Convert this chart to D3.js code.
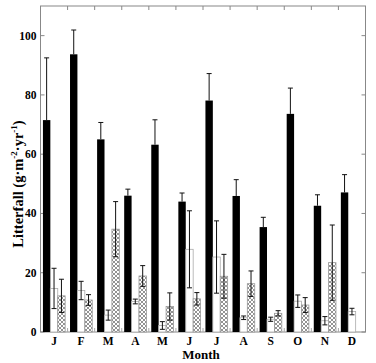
<!DOCTYPE html>
<html><head><meta charset="utf-8">
<script src="https://cdn.jsdelivr.net/npm/d3@7"></script>
<style>body{margin:0;background:#fff}svg{display:block}</style>
</head><body>
<script>
const months = ["J","F","M","A","M","J","J","A","S","O","N","D"];
const seriesNames = ["total","open","hatched"];
const totalVals = [71.5, 93.7, 65, 46, 63.2, 44, 78.1, 45.9, 35.4, 73.6, 42.6, 47.1];
const totalErr  = [21, 8.2, 5.7, 2.2, 8.4, 2.9, 9.1, 5.5, 3.3, 8.7, 3.7, 6];
const openVals  = [14.7, 14, 5.7, 10.3, 2.2, 27.9, 25.3, 4.8, 4.3, 10.4, 3.8, 6.9];
const openErr   = [6.8, 3.1, 1.7, 0.8, 1.3, 13, 12.2, 0.6, 0.7, 2.1, 1.4, 1.1];
const hatchVals = [12.2, 10.8, 34.7, 18.9, 8.6, 11.2, 18.8, 16.3, 6.3, 9.1, 23.4, null];
const hatchErr  = [5.6, 1.8, 9.3, 3.5, 4.6, 2.1, 7.4, 4.3, 0.9, 2.5, 12.7, null];
const yTicks = [0, 20, 40, 60, 80, 100];

const W = 376, H = 363;
const L = 40.5, R = 365.5, T = 6, B = 332;
const svg = d3.select("body").append("svg").attr("width", W).attr("height", H);

const defs = svg.append("defs");
const pat = defs.append("pattern").attr("id","xh").attr("patternUnits","userSpaceOnUse")
  .attr("width",4).attr("height",4);
pat.append("rect").attr("width",4).attr("height",4).attr("fill","#fff");
pat.append("path").attr("d","M0,0L4,4M4,0L0,4").attr("stroke","#777").attr("stroke-width",0.8);

const idx = d3.range(months.length);
const x = d3.scaleBand().domain(idx).range([L, R]).paddingInner(0.18).paddingOuter(0.09);
const xs = d3.scaleBand().domain(seriesNames).range([0, x.bandwidth()]);
const y = d3.scaleLinear().domain([0, 110]).range([B, T]);

// frame
svg.append("rect").attr("x", L).attr("y", T).attr("width", R - L).attr("height", B - T)
  .attr("fill", "none").attr("stroke", "#888").attr("stroke-width", 1);

// group boundary ticks (top and bottom, inward)
const step = x.step();
const bounds = d3.range(1, months.length).map(i => L + i * step);
svg.selectAll(".tt").data(bounds).join("line")
  .attr("x1", d => d).attr("x2", d => d).attr("y1", T).attr("y2", T + 4)
  .attr("stroke", "#888");
svg.selectAll(".bt").data(bounds).join("line")
  .attr("x1", d => d).attr("x2", d => d).attr("y1", B).attr("y2", B - 4)
  .attr("stroke", "#aaa");

// y ticks left/right inward
svg.selectAll(".ly").data(yTicks).join("line")
  .attr("x1", L).attr("x2", L + 4).attr("y1", d => y(d)).attr("y2", d => y(d)).attr("stroke", "#888");
svg.selectAll(".ry").data(yTicks).join("line")
  .attr("x1", R).attr("x2", R - 4).attr("y1", d => y(d)).attr("y2", d => y(d)).attr("stroke", "#888");
svg.selectAll(".yl").data(yTicks).join("text")
  .attr("x", L - 4).attr("y", d => y(d) + 4).attr("text-anchor", "end")
  .attr("font-family", "Liberation Serif").attr("font-weight", "bold").attr("font-size", 11.5)
  .text(d => d);

// bars
const series = [
  {key:"total", vals:totalVals, err:totalErr, fill:"#000", stroke:"#000", both:false},
  {key:"open", vals:openVals, err:openErr, fill:"#fff", stroke:"#aaa", both:true},
  {key:"hatched", vals:hatchVals, err:hatchErr, fill:"url(#xh)", stroke:"#999", both:true}
];
series.forEach(s => {
  const data = idx.filter(i => s.vals[i] != null);
  const bw = xs.bandwidth();
  svg.append("g").selectAll("rect").data(data).join("rect")
    .attr("x", i => x(i) + xs(s.key))
    .attr("y", i => y(s.vals[i]))
    .attr("width", bw)
    .attr("height", i => B - y(s.vals[i]))
    .attr("fill", s.fill).attr("stroke", s.stroke).attr("stroke-width", s.key === "total" ? 0 : 0.8);
  const eg = svg.append("g").attr("stroke", "#111").attr("stroke-width", 1);
  data.forEach(i => {
    const cx = x(i) + xs(s.key) + bw / 2;
    const hi = y(s.vals[i] + s.err[i]);
    const lo = s.both ? y(s.vals[i] - s.err[i]) : y(s.vals[i]);
    eg.append("line").attr("x1", cx).attr("x2", cx).attr("y1", hi).attr("y2", lo);
    eg.append("line").attr("x1", cx - 2.5).attr("x2", cx + 2.5).attr("y1", hi).attr("y2", hi);
    if (s.both) eg.append("line").attr("x1", cx - 2.5).attr("x2", cx + 2.5).attr("y1", lo).attr("y2", lo);
  });
});

// x labels
svg.selectAll(".xl").data(idx).join("text")
  .attr("x", i => L + (i + 0.5) * step).attr("y", 345)
  .attr("text-anchor", "middle")
  .attr("font-family", "Liberation Serif").attr("font-weight", "bold").attr("font-size", 11.5)
  .text(i => months[i]);
svg.append("text").attr("x", 201).attr("y", 359).attr("text-anchor", "middle")
  .attr("font-family", "Liberation Serif").attr("font-weight", "bold").attr("font-size", 13)
  .text("Month");

// y label
const yl = svg.append("text").attr("transform", "translate(23,184) rotate(-90)")
  .attr("text-anchor", "middle")
  .attr("font-family", "Liberation Serif").attr("font-weight", "bold").attr("font-size", 14.5);
yl.append("tspan").text("Litterfall (g·m");
yl.append("tspan").attr("dy", -6).attr("font-size", 9).text("-2");
yl.append("tspan").attr("dy", 6).text("·yr");
yl.append("tspan").attr("dy", -6).attr("font-size", 9).text("-1");
yl.append("tspan").attr("dy", 6).text(")");
</script>
</body></html>
